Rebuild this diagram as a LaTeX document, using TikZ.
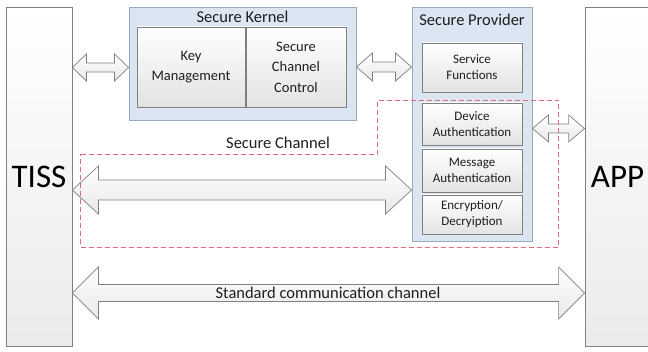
\documentclass[tikz,border=0pt]{standalone}
\usepackage{fontspec}
\setmainfont{Carlito}
\usetikzlibrary{calc}

\definecolor{edgegray}{HTML}{808080}
\definecolor{panelblue}{HTML}{DCE6F2}
\definecolor{paneledge}{HTML}{98AAC0}
\definecolor{channelred}{HTML}{E06A7A}
\definecolor{inkgray}{HTML}{1E1E1E}

\tikzset{
  sidebox/.style={draw=edgegray, line width=0.8pt, top color=white, bottom color=black!8,
    inner sep=0pt, text=black},
  panel/.style={draw=paneledge, line width=0.9pt, fill=panelblue, inner sep=0pt},
  unitbox/.style={draw=edgegray, line width=0.8pt, top color=white, bottom color=black!11,
    inner sep=0pt, align=center, text=inkgray},
  blockarrow/.style={draw=edgegray, line width=0.7pt, top color=white, bottom color=black!9,
    line join=miter},
  channel/.style={draw=channelred, line width=1pt, dash pattern=on 5pt off 3pt},
  bigname/.style={font=\fontsize{33}{36}\selectfont},
  title/.style={font=\fontsize{16.5}{19}\selectfont, text=inkgray, inner sep=0pt},
  unittext/.style={font=\fontsize{14.5}{20.5}\selectfont},
  smalltext/.style={font=\fontsize{13}{16}\selectfont},
}

% two-way block arrow between two anchors
% #1 from, #2 to, #3 centre depth, #4 half shaft, #5 half head, #6 head length
\newcommand\twowayarrow[6]{%
  \path[blockarrow] let \p1=(#1), \p2=(#2), \n1={\x2-\x1} in
    (\x1,-#3pt) -- ++(#6,#5) -- ++(0,#4-#5) -- ++({\n1-2*#6},0) -- ++(0,#5-#4)
    -- ++(#6,-#5) -- ++(-#6,-#5) -- ++(0,#5-#4) -- ++({2*#6-\n1},0)
    -- ++(0,#4-#5) -- cycle;}

\begin{document}
\begin{tikzpicture}[x=1pt, y=1pt]
  \path[use as bounding box] (0,0) rectangle (648,-352);
  \clip (0,0) rectangle (648,-352);

  % end points
  \node[sidebox, bigname, minimum width=66, minimum height=339] (tiss) at (39,-176.5) {TISS};
  \node[sidebox, bigname, minimum width=65, minimum height=339] (app) at (617.5,-176.5) {APP};

  % secure kernel
  \node[panel, minimum width=227, minimum height=113] (kernel) at (242.5,-63.5) {};
  \node[title] (kernelT) at (242.5,-17) {Secure Kernel};
  \node[unitbox, unittext, minimum width=108, minimum height=80] (km) at (191,-67)
    {Key\\Management};
  \node[unitbox, unittext, minimum width=100, minimum height=80] (scc) at (296,-67)
    {Secure\\Channel\\Control};

  % secure provider
  \node[panel, minimum width=120, minimum height=234] (prov) at (472,-124) {};
  \node[title] (provT) at (472,-20) {Secure Provider};
  \node[unitbox, smalltext, minimum width=100, minimum height=49] (sf) at (472,-67.5)
    {Service\\Functions};
  \node[unitbox, smalltext, minimum width=100, minimum height=42] (da) at (472,-124)
    {Device\\Authentication};
  \node[unitbox, smalltext, minimum width=100, minimum height=43] (ma) at (472,-170.5)
    {Message\\Authentication};
  \node[unitbox, smalltext, minimum width=100, minimum height=39] (ed) at (472,-214.5)
    {Encryption/\\Decryiption};

  % links
  \twowayarrow{tiss.east}{kernel.west}{67.5}{4.5}{13.5}{14}
  \twowayarrow{kernel.east}{prov.west}{67}{5}{14}{16}
  \twowayarrow{prov.east}{app.west}{128.5}{4.5}{13.5}{16}
  \twowayarrow{tiss.east}{prov.west}{190}{10}{24}{26}
  \twowayarrow{tiss.east}{app.west}{293}{8.5}{26}{26}

  % secure channel boundary
  \draw[channel] (80.5,-154.5) -- (377.5,-154.5) -- (377.5,-100.5) -- (558.5,-100.5)
    -- (558.5,-247.5) -- (80.5,-247.5) -- cycle;
  \node[title] (chanT) at (278,-143) {Secure Channel};
  \node[title] (stdT) at (328,-293) {Standard communication channel};
\end{tikzpicture}
\end{document}
